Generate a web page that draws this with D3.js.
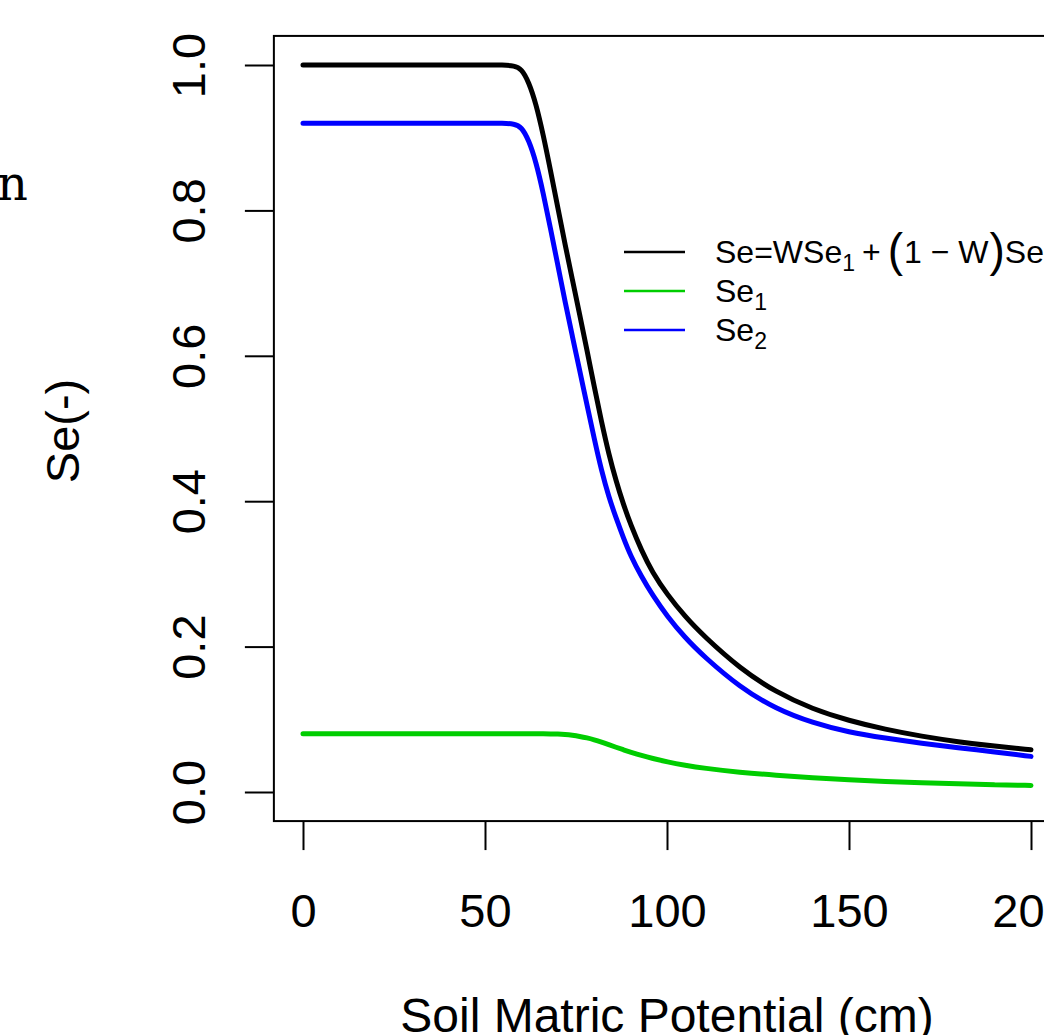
<!DOCTYPE html>
<html>
<head>
<meta charset="utf-8">
<script src="https://cdn.jsdelivr.net/npm/d3@7"></script>
<style>
  html, body { margin: 0; padding: 0; background: #fff; }
  svg { display: block; }
  text { font-family: "Liberation Sans", Arial, sans-serif; fill: #000; }
</style>
</head>
<body>
<script>
// Soil matric potential h (cm)
const potentialCm = [0, 10, 20, 30, 40, 50, 55, 58, 60, 62, 64, 66, 68, 70, 72, 74, 76, 78, 80,
  82, 84, 86, 88, 90, 93, 96, 100, 105, 110, 120, 130, 140, 150, 160, 170, 180, 190, 200];

// Effective saturation of the bimodal mixture: Se = W*Se1 + (1-W)*Se2
const seMixture = [1.0, 1.0, 1.0, 1.0, 1.0, 1.0, 1.0, 0.999, 0.995, 0.977, 0.947, 0.904, 0.855, 0.804,
  0.753, 0.705, 0.657, 0.608, 0.558, 0.509, 0.465, 0.428, 0.396, 0.368, 0.332, 0.302, 0.272, 0.241,
  0.215, 0.170, 0.137, 0.114, 0.098, 0.086, 0.0765, 0.069, 0.063, 0.058];

// Weighted contribution of the first pore domain
const seDomain1 = [0.080, 0.080, 0.080, 0.080, 0.080, 0.080, 0.080, 0.080, 0.080, 0.080, 0.080, 0.080,
  0.080, 0.0797, 0.0791, 0.0780, 0.0765, 0.0745, 0.0719, 0.0687, 0.0651, 0.0615, 0.0581, 0.0549, 0.0502,
  0.0462, 0.0415, 0.0368, 0.0328, 0.0270, 0.0230, 0.0196, 0.0168, 0.0145, 0.0127, 0.0113, 0.0100, 0.0090];

// Weighted contribution of the second pore domain
const seDomain2 = [0.92, 0.92, 0.92, 0.92, 0.92, 0.92, 0.92, 0.919, 0.915, 0.897, 0.867, 0.824, 0.775,
  0.725, 0.674, 0.627, 0.580, 0.533, 0.486, 0.442, 0.406, 0.377, 0.350, 0.325, 0.296, 0.271, 0.242,
  0.212, 0.187, 0.144, 0.114, 0.095, 0.082, 0.074, 0.067, 0.061, 0.055, 0.049];

const xTicks = [0, 50, 100, 150, 200];
const yTicks = [0, 0.2, 0.4, 0.6, 0.8, 1.0];

const seriesList = [
  { name: "mixture", values: seMixture, color: "#000000" },
  { name: "domain1", values: seDomain1, color: "#00CD00" },
  { name: "domain2", values: seDomain2, color: "#0000FF" }
];

const W = 1044, H = 1035;
const svg = d3.select("body").append("svg").attr("width", W).attr("height", H);

const x = d3.scaleLinear().domain([0, 200]).range([303, 1031]);
const y = d3.scaleLinear().domain([0, 1]).range([792, 65]);

// Plot region padded by 4% on each side
const bx0 = x(-8), bx1 = x(208), by0 = y(1.04), by1 = y(-0.04);

// Stray serif glyph at the left margin
svg.append("text")
  .attr("x", 28).attr("y", 200)
  .attr("text-anchor", "end")
  .style("font-family", "'DejaVu Serif', 'Liberation Serif', serif")
  .style("font-size", "48px")
  .text("n");

svg.append("defs").append("clipPath").attr("id", "plotClip")
  .append("rect").attr("x", bx0).attr("y", by0).attr("width", bx1 - bx0).attr("height", by1 - by0);

// Curves, smoothed with a B-spline through the sampled potentials
const line = d3.line()
  .x((d, i) => x(potentialCm[i]))
  .y(d => y(d))
  .curve(d3.curveBasis);

const curves = svg.append("g").attr("clip-path", "url(#plotClip)");
seriesList.forEach(s => {
  curves.append("path")
    .datum(s.values)
    .attr("d", line)
    .attr("fill", "none")
    .attr("stroke", s.color)
    .attr("stroke-width", 5)
    .attr("stroke-linecap", "round")
    .attr("stroke-linejoin", "round");
});

// Plot box
svg.append("rect")
  .attr("x", bx0).attr("y", by0)
  .attr("width", bx1 - bx0).attr("height", by1 - by0)
  .attr("fill", "none").attr("stroke", "#000").attr("stroke-width", 2);

// X axis
const xAxis = svg.append("g")
  .attr("transform", `translate(0,${by1})`)
  .call(d3.axisBottom(x).tickValues(xTicks).tickSize(29).tickPadding(14).tickFormat(d3.format("d")));
xAxis.select(".domain").remove();
xAxis.selectAll(".tick line").attr("stroke", "#000").attr("stroke-width", 2);
xAxis.selectAll(".tick text")
  .attr("y", 0).attr("dy", 0)
  .attr("transform", `translate(0,${927 - by1})`)
  .style("font-family", "'Liberation Sans', Arial, sans-serif")
  .style("font-size", "47px").attr("fill", "#000");

// Y axis with labels rotated parallel to the axis
const yAxis = svg.append("g")
  .attr("transform", `translate(${bx0},0)`)
  .call(d3.axisLeft(y).tickValues(yTicks).tickSize(29).tickFormat(d3.format(".1f")));
yAxis.select(".domain").remove();
yAxis.selectAll(".tick line").attr("stroke", "#000").attr("stroke-width", 2);
yAxis.selectAll(".tick text")
  .attr("x", 0).attr("dy", 0)
  .attr("y", 205 - bx0)
  .attr("transform", "rotate(-90)")
  .attr("text-anchor", "middle")
  .style("font-family", "'Liberation Sans', Arial, sans-serif")
  .style("font-size", "47px").attr("fill", "#000");

// Axis titles
svg.append("text")
  .attr("x", x(100)).attr("y", 1032)
  .attr("text-anchor", "middle")
  .style("font-size", "48px")
  .text("Soil Matric Potential (cm)");

svg.append("text")
  .attr("transform", "translate(79,431) rotate(-90)")
  .attr("text-anchor", "middle")
  .style("font-size", "47px")
  .text("Se(-)");

// Legend
const legendRows = [
  { color: "#000000", y: 252 },
  { color: "#00CD00", y: 291 },
  { color: "#0000FF", y: 330 }
];
const legend = svg.append("g");
legendRows.forEach(r => {
  legend.append("line")
    .attr("x1", 624).attr("x2", 685)
    .attr("y1", r.y).attr("y2", r.y)
    .attr("stroke", r.color).attr("stroke-width", 2.5);
});

const fs = 32, sub = 23;
const t1 = legend.append("text").attr("x", 715).attr("y", legendRows[0].y + 11).style("font-size", fs + "px");
t1.append("tspan").text("Se=WSe");
t1.append("tspan").attr("dy", 8).style("font-size", sub + "px").text("1");
t1.append("tspan").attr("dy", -8).attr("dx", 7).text("+");
t1.append("tspan").attr("dx", 7).attr("dy", 3).style("font-size", "46px").text("(");
t1.append("tspan").attr("dy", -3).attr("dx", 1).text("1 \u2212 W");
t1.append("tspan").attr("dy", 3).attr("dx", 1).style("font-size", "46px").text(")");
t1.append("tspan").attr("dy", -3).text("Se");
t1.append("tspan").attr("dy", 8).style("font-size", sub + "px").text("2");

[["1", 1], ["2", 2]].forEach(([s, i]) => {
  const t = legend.append("text").attr("x", 715).attr("y", legendRows[i].y + 11).style("font-size", fs + "px");
  t.append("tspan").text("Se");
  t.append("tspan").attr("dy", 8).style("font-size", sub + "px").text(s);
});
</script>
</body>
</html>
